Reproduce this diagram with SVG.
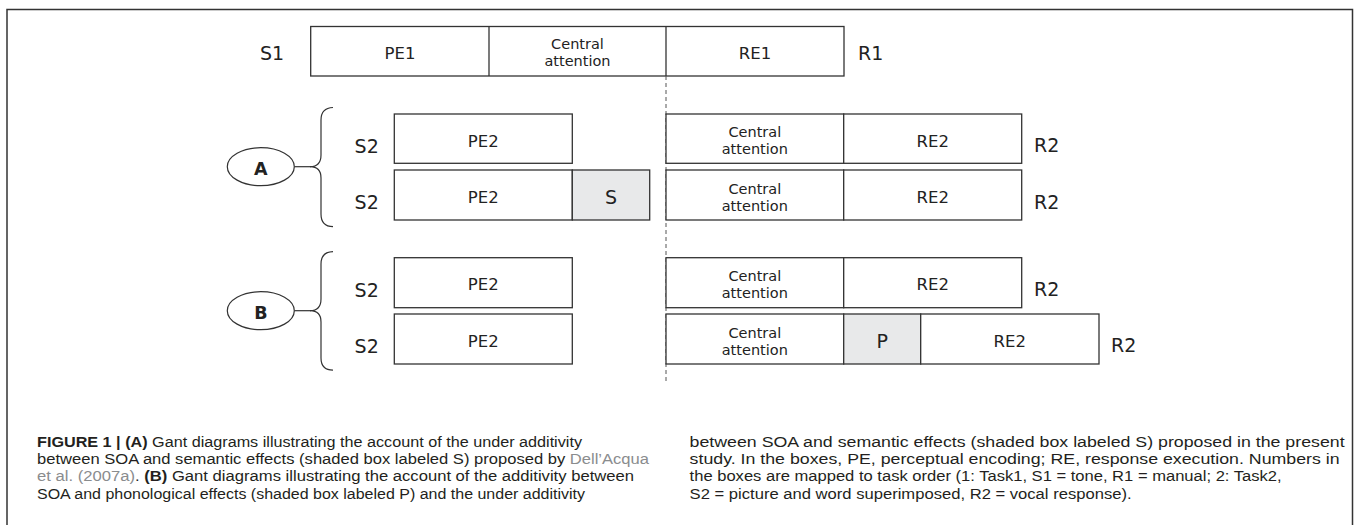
<svg xmlns="http://www.w3.org/2000/svg" width="1356" height="525" viewBox="0 0 1356 525">
<style>
.box{fill:#fff;stroke:#333;stroke-width:1.3}
.shade{fill:#e8e9ea;stroke:#333;stroke-width:1.3}
.t{font-family:"DejaVu Sans",sans-serif;fill:#222;text-anchor:middle}
.lbl{font-size:16.5px}
.ca{font-size:14.5px}
.sr{font-family:"DejaVu Sans",sans-serif;fill:#222;font-size:19px}
.big{font-size:19px}
.ell{fill:#fff;stroke:#333;stroke-width:1.2}
.brace{fill:none;stroke:#333;stroke-width:1.2}
.cap{font-family:"Liberation Sans",Arial,sans-serif;font-size:15.5px;fill:#231f20}
.b{font-weight:bold}
.lk{fill:#8a8c8e}
</style>
<g id="frame" fill="none" stroke="#333" stroke-width="1.5">
<path d="M7,525 V9.5 H1352.5 V525"/>
</g>
<g id="row1">
<rect class="box" x="310.7" y="26.5" width="533.3" height="49.5"/>
<line x1="489" y1="26.5" x2="489" y2="76" stroke="#333" stroke-width="1.3"/>
<line x1="666" y1="26.5" x2="666" y2="76" stroke="#333" stroke-width="1.3"/>
<text class="sr" x="272" y="60" text-anchor="middle">S1</text>
<text class="t lbl" x="400" y="59">PE1</text>
<text class="t ca" x="577.5" y="48.5">Central</text>
<text class="t ca" x="577.5" y="65.5">attention</text>
<text class="t lbl" x="755" y="59">RE1</text>
<text class="sr" x="858" y="60">R1</text>
</g>
<g id="connectors">
<line x1="666" y1="76" x2="666" y2="384" stroke="#555" stroke-width="1" stroke-dasharray="4,3"/>
<line x1="294.3" y1="166.7" x2="311" y2="166.7" stroke="#333" stroke-width="1.2"/>
<line x1="294.3" y1="310.7" x2="311" y2="310.7" stroke="#333" stroke-width="1.2"/>
</g>
<g id="groupA">
<ellipse class="ell" cx="260.8" cy="166.7" rx="33.5" ry="19"/>
<text class="t b" x="260.8" y="175" font-size="17.5px">A</text>
<path class="brace" d="M333,107.5 Q321,108 321,120 L321,155 Q321,166.7 310,166.7 Q321,166.7 321,178 L321,214 Q321,226.5 333,226.7"/>
</g>
<g id="rowA1">
<rect class="box" x="394.3" y="114" width="178" height="49.3"/>
<text class="t big" x="366.7" y="152.7">S2</text>
<text class="t lbl" x="483.3" y="146.5">PE2</text>
<rect class="box" x="666" y="114" width="177.7" height="49.3"/>
<rect class="box" x="843.7" y="114" width="178" height="49.3"/>
<text class="t ca" x="754.8" y="137.3">Central</text>
<text class="t ca" x="754.8" y="154.3">attention</text>
<text class="t lbl" x="932.7" y="146.5">RE2</text>
<text class="sr" x="1034" y="152">R2</text>
</g>
<g id="rowA2">
<rect class="box" x="394.3" y="170" width="178" height="50"/>
<rect class="shade" x="572.3" y="170" width="77.4" height="50"/>
<text class="t big" x="366.7" y="208.5">S2</text>
<text class="t lbl" x="483.3" y="202.5">PE2</text>
<text class="t big" x="611" y="203.5">S</text>
<rect class="box" x="666" y="170" width="177.7" height="50"/>
<rect class="box" x="843.7" y="170" width="178" height="50"/>
<text class="t ca" x="754.8" y="193.5">Central</text>
<text class="t ca" x="754.8" y="210.5">attention</text>
<text class="t lbl" x="932.7" y="202.5">RE2</text>
<text class="sr" x="1034" y="208.5">R2</text>
</g>
<g id="groupB">
<ellipse class="ell" cx="260.8" cy="310.7" rx="33.5" ry="19"/>
<text class="t b" x="260.8" y="319" font-size="17.5px">B</text>
<path class="brace" d="M333,251.7 Q321,252 321,264 L321,299 Q321,310.7 310,310.7 Q321,310.7 321,322 L321,358 Q321,370 333,370.2"/>
</g>
<g id="rowB1">
<rect class="box" x="394.3" y="257.7" width="178" height="50"/>
<text class="t big" x="366.7" y="296.5">S2</text>
<text class="t lbl" x="483.3" y="290">PE2</text>
<rect class="box" x="666" y="257.7" width="177.7" height="50"/>
<rect class="box" x="843.7" y="257.7" width="178" height="50"/>
<text class="t ca" x="754.8" y="281">Central</text>
<text class="t ca" x="754.8" y="298">attention</text>
<text class="t lbl" x="932.7" y="290">RE2</text>
<text class="sr" x="1034" y="296">R2</text>
</g>
<g id="rowB2">
<rect class="box" x="394.3" y="314" width="178" height="50"/>
<text class="t big" x="366.7" y="352.7">S2</text>
<text class="t lbl" x="483.3" y="346.5">PE2</text>
<rect class="box" x="666" y="314" width="177.7" height="50"/>
<rect class="shade" x="843.7" y="314" width="77" height="50"/>
<rect class="box" x="920.7" y="314" width="178.3" height="50"/>
<text class="t ca" x="754.8" y="337.5">Central</text>
<text class="t ca" x="754.8" y="354.5">attention</text>
<text class="t big" x="882.2" y="347.5">P</text>
<text class="t lbl" x="1009.8" y="346.5">RE2</text>
<text class="sr" x="1111" y="352">R2</text>
</g>
<g id="caption">
<text class="cap" x="37" y="447" textLength="545" lengthAdjust="spacingAndGlyphs"><tspan class="b">FIGURE 1 | (A)</tspan> Gant diagrams illustrating the account of the under additivity</text>
<text class="cap" x="37" y="464.2" textLength="612" lengthAdjust="spacingAndGlyphs">between SOA and semantic effects (shaded box labeled S) proposed by <tspan class="lk">Dell’Acqua</tspan></text>
<text class="cap" x="37" y="481.4" textLength="597" lengthAdjust="spacingAndGlyphs"><tspan class="lk">et al. (2007a)</tspan>. <tspan class="b">(B)</tspan> Gant diagrams illustrating the account of the additivity between</text>
<text class="cap" x="37" y="498.6" textLength="548" lengthAdjust="spacingAndGlyphs">SOA and phonological effects (shaded box labeled P) and the under additivity</text>
<text class="cap" x="689.6" y="447" textLength="655" lengthAdjust="spacingAndGlyphs">between SOA and semantic effects (shaded box labeled S) proposed in the present</text>
<text class="cap" x="689.6" y="464.2" textLength="650" lengthAdjust="spacingAndGlyphs">study. In the boxes, PE, perceptual encoding; RE, response execution. Numbers in</text>
<text class="cap" x="689.6" y="481.4" textLength="592" lengthAdjust="spacingAndGlyphs">the boxes are mapped to task order (1: Task1, S1 = tone, R1 = manual; 2: Task2,</text>
<text class="cap" x="689.6" y="498.6" textLength="442" lengthAdjust="spacingAndGlyphs">S2 = picture and word superimposed, R2 = vocal response).</text>
</g>
</svg>
